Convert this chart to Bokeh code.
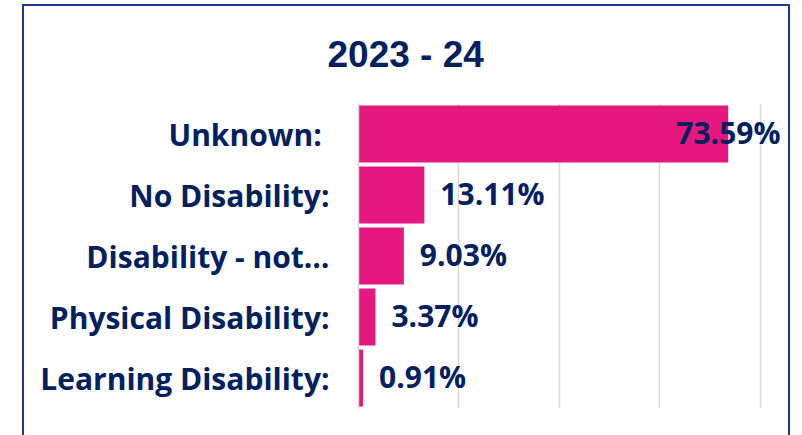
from bokeh.plotting import figure
from bokeh.models import (ColumnDataSource, FactorRange, Range1d,
                          SingleIntervalTicker, Spacer, InlineStyleSheet)
from bokeh.layouts import row, column
from bokeh.core.properties import value
from bokeh.embed import file_html
from bokeh.resources import INLINE

# ---- data ----
title_text = "2023 - 24"
categories = ["Unknown: ", "No Disability:", "Disability - not\u2026",
              "Physical Disability:", "Learning Disability:"]
values = [73.59, 13.11, 9.03, 3.37, 0.91]
labels = ["73.59%", "13.11%", "9.03%", "3.37%", "0.91%"]

# ---- style ----
NAVY = "#002060"
PINK = "#E6177F"
GRID = "#D9D9D9"
BORDER = "#1F3A8F"
X_END = 84
GRID_STEP = 20
FONT = "Open Sans"

p = figure(width=768, height=431, output_backend="svg", toolbar_location=None,
           y_range=FactorRange(factors=categories[::-1], range_padding=0),
           x_range=Range1d(0, X_END),
           min_border_left=336, min_border_right=10,
           min_border_top=99, min_border_bottom=27)
p.border_fill_color = None
p.background_fill_color = None
p.outline_line_color = None

src = ColumnDataSource(dict(cat=categories, val=values))
p.hbar(y="cat", right="val", left=0, height=0.934, source=src,
       fill_color=PINK, line_color=None)

# value labels: outside end, pulled inside the plot when they would not fit
px_per_unit = 402 / 80
label_w_units = (16 + 106) / px_per_unit
lx, align, xoff = [], [], []
for v in values:
    if v + label_w_units <= X_END:
        lx.append(v); align.append("left"); xoff.append(16)
    else:
        lx.append(X_END); align.append("right"); xoff.append(0)
lsrc = ColumnDataSource(dict(cat=categories, x=lx, txt=labels, align=align, xoff=xoff))
p.text(x="x", y="cat", text="txt", source=lsrc, text_align="align",
       x_offset="xoff", y_offset=-2, text_baseline="middle",
       text_font=value(FONT), text_font_style="bold", text_font_size="30px",
       text_color=NAVY)

# axes
p.xaxis.visible = False
p.xaxis.ticker = SingleIntervalTicker(interval=GRID_STEP)
p.xgrid.ticker = SingleIntervalTicker(interval=GRID_STEP)
p.xgrid.grid_line_color = GRID
p.xgrid.grid_line_width = 1.5
p.ygrid.grid_line_color = None

yax = p.yaxis[0]
yax.axis_line_color = GRID
yax.axis_line_width = 1.5
yax.major_tick_line_color = None
yax.minor_tick_line_color = None
yax.major_tick_out = 0
yax.major_label_standoff = 29
yax.major_label_text_font = FONT
yax.major_label_text_font_style = "bold"
yax.major_label_text_font_size = "30px"
yax.major_label_text_color = NAVY

# title
p.title.text = title_text
p.title.align = "left"
p.title.vertical_align = "top"
p.title.offset = -31
p.title.standoff = 54
p.title.text_font = "Liberation Sans"
p.title.text_font_style = "bold"
p.title.text_font_size = "37px"
p.title.text_color = NAVY

# chart border (left, top, right)
p.stylesheets = [InlineStyleSheet(css=(
    ":host { box-shadow: inset 2px 0 0 0 %s, inset -2px 0 0 0 %s, inset 0 2px 0 0 %s; }"
    % (BORDER, BORDER, BORDER)))]

layout = column(Spacer(width=790, height=4),
                row(Spacer(width=22, height=431), p))
open("out.html", "w").write(file_html(layout, INLINE))
